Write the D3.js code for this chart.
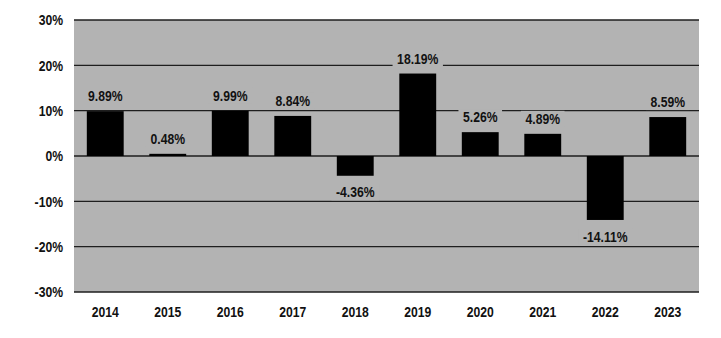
<!DOCTYPE html>
<html><head><meta charset="utf-8">
<script src="https://cdn.jsdelivr.net/npm/d3@7/dist/d3.min.js"></script>
<style>
body{margin:0;background:#fff;}
text{font-family:"Liberation Sans",Arial,sans-serif;font-weight:bold;fill:#111;}
</style></head>
<body><svg id="c" width="721" height="338"></svg>
<script>
const years = ["2014","2015","2016","2017","2018","2019","2020","2021","2022","2023"];
const returns = [9.89, 0.48, 9.99, 8.84, -4.36, 18.19, 5.26, 4.89, -14.11, 8.59];
const yTicks = [-30, -20, -10, 0, 10, 20, 30];

const svg = d3.select("#c");
const m = {left:74, right:22, top:20, bottom:46};
const W = 721, H = 338;
const FS = 14.5, SX = 0.84;
const x = d3.scaleBand().domain(years).range([m.left, W - m.right]).paddingInner(0.41).paddingOuter(0.205);
const y = d3.scaleLinear().domain([-30, 30]).range([H - m.bottom, m.top]);
const bg = "#b3b3b3";

svg.append("rect").attr("x", m.left).attr("y", m.top)
  .attr("width", W - m.left - m.right).attr("height", H - m.top - m.bottom).attr("fill", bg);

svg.append("g").selectAll("line").data(yTicks).join("line")
  .attr("x1", m.left).attr("x2", W - m.right)
  .attr("y1", d => y(d)).attr("y2", d => y(d))
  .attr("stroke", "#1e1e1e").attr("stroke-width", 1.4);

function label(parent, tx, ty, anchor, str) {
  return parent.append("text")
    .attr("transform", `translate(${tx},${ty}) scale(${SX},1)`)
    .attr("dy", "0.36em").attr("text-anchor", anchor).attr("font-size", FS).text(str);
}

const ya = svg.append("g");
yTicks.forEach(d => label(ya, 63, y(d), "end", d + "%"));

svg.append("g").selectAll("rect").data(returns).join("rect")
  .attr("x", (d, i) => x(years[i])).attr("width", x.bandwidth())
  .attr("y", d => y(Math.max(0, d))).attr("height", d => Math.abs(y(d) - y(0)))
  .attr("fill", "#000");

const lg = svg.append("g");
returns.forEach((d, i) => {
  const cx = x(years[i]) + x.bandwidth() / 2;
  const cy = d >= 0 ? y(d) - 15 : y(d) + 16.5;
  const g = lg.append("g");
  const t = label(g, cx, cy, "middle", d.toFixed(2) + "%");
  const w = t.node().getBBox().width * SX;
  g.insert("rect", "text").attr("x", cx - w / 2 - 4.5).attr("y", cy - 8).attr("width", w + 9)
    .attr("height", 16).attr("fill", bg);
});

const xa = svg.append("g");
years.forEach(d => label(xa, x(d) + x.bandwidth() / 2, 312, "middle", d));
</script></body></html>
